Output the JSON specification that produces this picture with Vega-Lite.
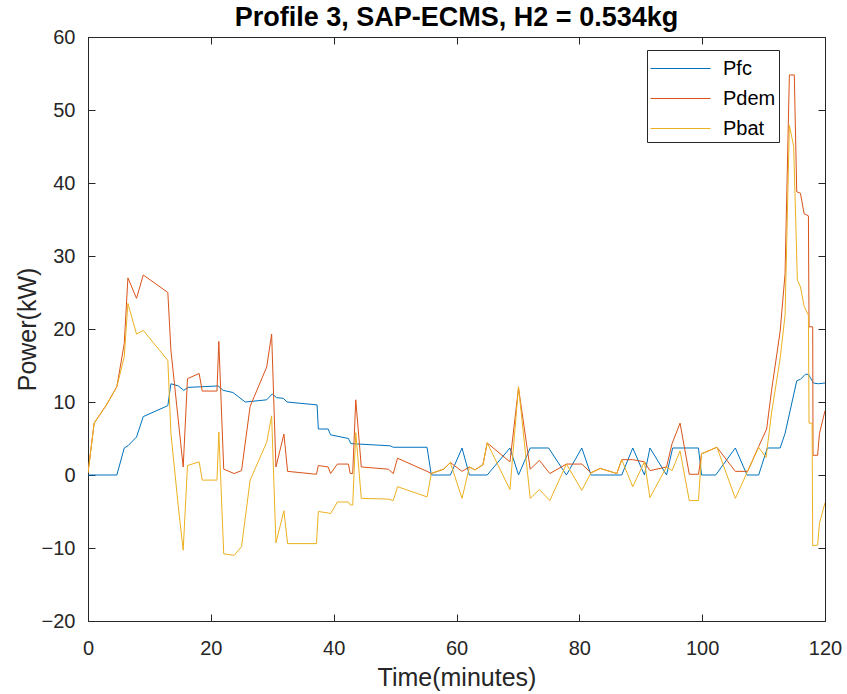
{
  "$schema": "https://vega.github.io/schema/vega-lite/v6.json",
  "width": 737,
  "height": 584,
  "autosize": {"type": "none"},
  "padding": {"left": 88, "top": 37, "right": 22, "bottom": 73},
  "background": "white",
  "config": {
    "font": "Liberation Sans",
    "view": {"stroke": "#262626", "strokeWidth": 1},
    "axis": {
      "grid": false,
      "domainColor": "#262626",
      "tickColor": "#262626",
      "labelColor": "#262626",
      "titleColor": "#262626",
      "labelFont": "Liberation Sans",
      "titleFont": "Liberation Sans",
      "labelFontSize": 20,
      "titleFontSize": 25,
      "titleFontWeight": "normal",
      "domainWidth": 1,
      "tickWidth": 1
    }
  },
  "title": {
    "text": "Profile 3, SAP-ECMS, H2 = 0.534kg",
    "font": "Liberation Sans",
    "fontSize": 27,
    "fontWeight": "bold",
    "color": "#000000",
    "anchor": "middle",
    "offset": -5
  },
  "resolve": {"axis": {"x": "independent", "y": "independent"}},
  "data": {
    "values": [
      {"t": 0, "v": 0, "s": "Pfc"}, {"t": 4.7, "v": 0, "s": "Pfc"}, {"t": 5.9, "v": 3.7, "s": "Pfc"}, {"t": 6.5, "v": 4.0, "s": "Pfc"}, {"t": 7.9, "v": 5.2, "s": "Pfc"}, {"t": 9.0, "v": 8.0, "s": "Pfc"}, {"t": 13.0, "v": 9.5, "s": "Pfc"}, {"t": 13.5, "v": 12.5, "s": "Pfc"}, {"t": 14.7, "v": 12.2, "s": "Pfc"}, {"t": 15.6, "v": 11.6, "s": "Pfc"}, {"t": 16.3, "v": 12.0, "s": "Pfc"}, {"t": 21.2, "v": 12.2, "s": "Pfc"}, {"t": 22.0, "v": 11.6, "s": "Pfc"}, {"t": 23.6, "v": 11.3, "s": "Pfc"}, {"t": 25.6, "v": 10.0, "s": "Pfc"}, {"t": 28.0, "v": 10.2, "s": "Pfc"}, {"t": 29.1, "v": 10.3, "s": "Pfc"}, {"t": 30.0, "v": 11.1, "s": "Pfc"}, {"t": 30.7, "v": 10.6, "s": "Pfc"}, {"t": 31.8, "v": 10.5, "s": "Pfc"}, {"t": 32.4, "v": 10.0, "s": "Pfc"}, {"t": 37.3, "v": 9.6, "s": "Pfc"}, {"t": 37.5, "v": 6.3, "s": "Pfc"}, {"t": 39.1, "v": 6.3, "s": "Pfc"}, {"t": 39.5, "v": 5.5, "s": "Pfc"}, {"t": 42.4, "v": 5.0, "s": "Pfc"}, {"t": 42.8, "v": 4.3, "s": "Pfc"}, {"t": 49.2, "v": 4.0, "s": "Pfc"}, {"t": 49.7, "v": 3.8, "s": "Pfc"}, {"t": 55.2, "v": 3.8, "s": "Pfc"}, {"t": 55.9, "v": 0, "s": "Pfc"}, {"t": 59.0, "v": 0, "s": "Pfc"}, {"t": 60.9, "v": 3.7, "s": "Pfc"}, {"t": 62.1, "v": 0, "s": "Pfc"}, {"t": 65.0, "v": 0, "s": "Pfc"}, {"t": 68.7, "v": 3.7, "s": "Pfc"}, {"t": 70.1, "v": 0, "s": "Pfc"}, {"t": 72.0, "v": 3.7, "s": "Pfc"}, {"t": 75.0, "v": 3.7, "s": "Pfc"}, {"t": 77.9, "v": 0, "s": "Pfc"}, {"t": 80.4, "v": 3.7, "s": "Pfc"}, {"t": 81.9, "v": 0, "s": "Pfc"}, {"t": 86.9, "v": 0, "s": "Pfc"}, {"t": 88.7, "v": 3.7, "s": "Pfc"}, {"t": 90.6, "v": 0, "s": "Pfc"}, {"t": 91.5, "v": 3.7, "s": "Pfc"}, {"t": 94.2, "v": 0, "s": "Pfc"}, {"t": 95.2, "v": 3.7, "s": "Pfc"}, {"t": 99.4, "v": 3.7, "s": "Pfc"}, {"t": 99.9, "v": 0, "s": "Pfc"}, {"t": 102.2, "v": 0, "s": "Pfc"}, {"t": 105.4, "v": 3.7, "s": "Pfc"}, {"t": 107.3, "v": 0, "s": "Pfc"}, {"t": 109.2, "v": 0, "s": "Pfc"}, {"t": 110.6, "v": 3.7, "s": "Pfc"}, {"t": 112.7, "v": 3.7, "s": "Pfc"}, {"t": 113.5, "v": 5.7, "s": "Pfc"}, {"t": 115.4, "v": 12.9, "s": "Pfc"}, {"t": 116.0, "v": 13.1, "s": "Pfc"}, {"t": 116.8, "v": 13.8, "s": "Pfc"}, {"t": 117.3, "v": 13.8, "s": "Pfc"}, {"t": 118.1, "v": 12.6, "s": "Pfc"}, {"t": 118.9, "v": 12.5, "s": "Pfc"}, {"t": 120, "v": 12.6, "s": "Pfc"},

      {"t": 0, "v": 0.3, "s": "Pdem"}, {"t": 1.0, "v": 7.1, "s": "Pdem"}, {"t": 3.0, "v": 9.6, "s": "Pdem"}, {"t": 4.7, "v": 12.1, "s": "Pdem"}, {"t": 5.9, "v": 18.0, "s": "Pdem"}, {"t": 6.5, "v": 27.0, "s": "Pdem"}, {"t": 7.9, "v": 24.2, "s": "Pdem"}, {"t": 9.0, "v": 27.4, "s": "Pdem"}, {"t": 13.0, "v": 25.0, "s": "Pdem"}, {"t": 13.5, "v": 17.1, "s": "Pdem"}, {"t": 15.5, "v": 1.1, "s": "Pdem"}, {"t": 16.2, "v": 13.2, "s": "Pdem"}, {"t": 18.1, "v": 13.9, "s": "Pdem"}, {"t": 18.6, "v": 11.5, "s": "Pdem"}, {"t": 21.0, "v": 11.5, "s": "Pdem"}, {"t": 21.3, "v": 18.3, "s": "Pdem"}, {"t": 22.1, "v": 0.8, "s": "Pdem"}, {"t": 23.8, "v": 0.2, "s": "Pdem"}, {"t": 25.0, "v": 0.6, "s": "Pdem"}, {"t": 26.4, "v": 9.4, "s": "Pdem"}, {"t": 29.1, "v": 14.8, "s": "Pdem"}, {"t": 29.9, "v": 19.3, "s": "Pdem"}, {"t": 30.6, "v": 1.1, "s": "Pdem"}, {"t": 31.9, "v": 5.6, "s": "Pdem"}, {"t": 32.5, "v": 0.5, "s": "Pdem"}, {"t": 37.2, "v": 0.1, "s": "Pdem"}, {"t": 37.5, "v": 1.3, "s": "Pdem"}, {"t": 39.1, "v": 1.1, "s": "Pdem"}, {"t": 39.5, "v": 0.2, "s": "Pdem"}, {"t": 40.6, "v": 1.5, "s": "Pdem"}, {"t": 42.4, "v": 1.5, "s": "Pdem"}, {"t": 42.7, "v": 0.2, "s": "Pdem"}, {"t": 43.1, "v": 0.2, "s": "Pdem"}, {"t": 43.6, "v": 10.3, "s": "Pdem"}, {"t": 44.5, "v": 1.1, "s": "Pdem"}, {"t": 48.9, "v": 0.8, "s": "Pdem"}, {"t": 49.7, "v": 0.2, "s": "Pdem"}, {"t": 50.4, "v": 2.3, "s": "Pdem"}, {"t": 55.2, "v": 0.5, "s": "Pdem"}, {"t": 55.9, "v": 0.2, "s": "Pdem"}, {"t": 57.9, "v": 0.8, "s": "Pdem"}, {"t": 59.0, "v": 1.7, "s": "Pdem"}, {"t": 60.9, "v": 0.5, "s": "Pdem"}, {"t": 62.1, "v": 1.1, "s": "Pdem"}, {"t": 63.0, "v": 0.7, "s": "Pdem"}, {"t": 64.3, "v": 1.4, "s": "Pdem"}, {"t": 65.0, "v": 4.4, "s": "Pdem"}, {"t": 68.7, "v": 1.8, "s": "Pdem"}, {"t": 70.1, "v": 11.9, "s": "Pdem"}, {"t": 72.0, "v": 0.8, "s": "Pdem"}, {"t": 73.5, "v": 2.0, "s": "Pdem"}, {"t": 75.2, "v": 0.2, "s": "Pdem"}, {"t": 77.9, "v": 1.5, "s": "Pdem"}, {"t": 80.4, "v": 1.5, "s": "Pdem"}, {"t": 81.9, "v": 0.3, "s": "Pdem"}, {"t": 83.4, "v": 0.9, "s": "Pdem"}, {"t": 86.1, "v": 0.2, "s": "Pdem"}, {"t": 86.9, "v": 2.1, "s": "Pdem"}, {"t": 88.7, "v": 2.1, "s": "Pdem"}, {"t": 90.6, "v": 1.8, "s": "Pdem"}, {"t": 91.5, "v": 0.6, "s": "Pdem"}, {"t": 94.2, "v": 1.1, "s": "Pdem"}, {"t": 95.1, "v": 4.3, "s": "Pdem"}, {"t": 96.4, "v": 7.1, "s": "Pdem"}, {"t": 97.9, "v": 0.1, "s": "Pdem"}, {"t": 99.4, "v": 0.1, "s": "Pdem"}, {"t": 99.9, "v": 2.9, "s": "Pdem"}, {"t": 102.4, "v": 3.8, "s": "Pdem"}, {"t": 105.4, "v": 0.5, "s": "Pdem"}, {"t": 107.4, "v": 0.5, "s": "Pdem"}, {"t": 109.2, "v": 3.9, "s": "Pdem"}, {"t": 110.5, "v": 6.3, "s": "Pdem"}, {"t": 111.3, "v": 11.6, "s": "Pdem"}, {"t": 112.7, "v": 19.7, "s": "Pdem"}, {"t": 113.5, "v": 27.6, "s": "Pdem"}, {"t": 114.2, "v": 54.8, "s": "Pdem"}, {"t": 115.0, "v": 54.8, "s": "Pdem"}, {"t": 115.4, "v": 38.8, "s": "Pdem"}, {"t": 116.0, "v": 38.6, "s": "Pdem"}, {"t": 116.6, "v": 35.8, "s": "Pdem"}, {"t": 117.3, "v": 35.5, "s": "Pdem"}, {"t": 117.4, "v": 20.3, "s": "Pdem"}, {"t": 118.0, "v": 20.3, "s": "Pdem"}, {"t": 118.05, "v": 2.7, "s": "Pdem"}, {"t": 118.8, "v": 2.7, "s": "Pdem"}, {"t": 119.1, "v": 5.7, "s": "Pdem"}, {"t": 120, "v": 8.8, "s": "Pdem"},

      {"t": 0, "v": 0.3, "s": "Pbat"}, {"t": 1.0, "v": 7.1, "s": "Pbat"}, {"t": 3.0, "v": 9.6, "s": "Pbat"}, {"t": 4.7, "v": 12.1, "s": "Pbat"}, {"t": 5.9, "v": 16.2, "s": "Pbat"}, {"t": 6.5, "v": 23.5, "s": "Pbat"}, {"t": 7.9, "v": 19.3, "s": "Pbat"}, {"t": 9.0, "v": 19.8, "s": "Pbat"}, {"t": 13.0, "v": 15.7, "s": "Pbat"}, {"t": 13.5, "v": 5.7, "s": "Pbat"}, {"t": 14.7, "v": -4.3, "s": "Pbat"}, {"t": 15.5, "v": -10.3, "s": "Pbat"}, {"t": 16.2, "v": 1.3, "s": "Pbat"}, {"t": 18.1, "v": 1.8, "s": "Pbat"}, {"t": 18.6, "v": -0.7, "s": "Pbat"}, {"t": 21.0, "v": -0.7, "s": "Pbat"}, {"t": 21.3, "v": 5.9, "s": "Pbat"}, {"t": 22.1, "v": -10.8, "s": "Pbat"}, {"t": 23.8, "v": -11.0, "s": "Pbat"}, {"t": 25.0, "v": -9.8, "s": "Pbat"}, {"t": 26.4, "v": -0.7, "s": "Pbat"}, {"t": 29.1, "v": 4.5, "s": "Pbat"}, {"t": 29.9, "v": 8.1, "s": "Pbat"}, {"t": 30.6, "v": -9.3, "s": "Pbat"}, {"t": 31.9, "v": -4.9, "s": "Pbat"}, {"t": 32.5, "v": -9.4, "s": "Pbat"}, {"t": 37.2, "v": -9.4, "s": "Pbat"}, {"t": 37.5, "v": -5.0, "s": "Pbat"}, {"t": 39.1, "v": -5.2, "s": "Pbat"}, {"t": 39.5, "v": -5.3, "s": "Pbat"}, {"t": 40.6, "v": -3.7, "s": "Pbat"}, {"t": 42.4, "v": -3.7, "s": "Pbat"}, {"t": 42.7, "v": -4.1, "s": "Pbat"}, {"t": 43.1, "v": -4.1, "s": "Pbat"}, {"t": 43.6, "v": 5.8, "s": "Pbat"}, {"t": 44.5, "v": -3.2, "s": "Pbat"}, {"t": 48.9, "v": -3.3, "s": "Pbat"}, {"t": 49.7, "v": -3.5, "s": "Pbat"}, {"t": 50.4, "v": -1.6, "s": "Pbat"}, {"t": 55.2, "v": -3.0, "s": "Pbat"}, {"t": 55.9, "v": 0.2, "s": "Pbat"}, {"t": 57.9, "v": 0.8, "s": "Pbat"}, {"t": 59.0, "v": 1.7, "s": "Pbat"}, {"t": 60.9, "v": -3.2, "s": "Pbat"}, {"t": 62.1, "v": 1.1, "s": "Pbat"}, {"t": 63.0, "v": 0.7, "s": "Pbat"}, {"t": 64.3, "v": 1.4, "s": "Pbat"}, {"t": 65.0, "v": 4.4, "s": "Pbat"}, {"t": 68.7, "v": -2.0, "s": "Pbat"}, {"t": 70.1, "v": 12.1, "s": "Pbat"}, {"t": 72.0, "v": -3.2, "s": "Pbat"}, {"t": 73.5, "v": -2.0, "s": "Pbat"}, {"t": 75.2, "v": -3.5, "s": "Pbat"}, {"t": 77.9, "v": 1.5, "s": "Pbat"}, {"t": 80.4, "v": -2.1, "s": "Pbat"}, {"t": 81.9, "v": 0.3, "s": "Pbat"}, {"t": 83.4, "v": 0.9, "s": "Pbat"}, {"t": 86.1, "v": 0.2, "s": "Pbat"}, {"t": 86.9, "v": 2.1, "s": "Pbat"}, {"t": 88.7, "v": -1.6, "s": "Pbat"}, {"t": 90.6, "v": 1.8, "s": "Pbat"}, {"t": 91.5, "v": -3.1, "s": "Pbat"}, {"t": 94.2, "v": 1.1, "s": "Pbat"}, {"t": 95.1, "v": 0.6, "s": "Pbat"}, {"t": 96.4, "v": 3.3, "s": "Pbat"}, {"t": 97.9, "v": -3.5, "s": "Pbat"}, {"t": 99.4, "v": -3.5, "s": "Pbat"}, {"t": 99.9, "v": 2.9, "s": "Pbat"}, {"t": 102.4, "v": 3.8, "s": "Pbat"}, {"t": 105.4, "v": -3.2, "s": "Pbat"}, {"t": 107.4, "v": 0.5, "s": "Pbat"}, {"t": 109.2, "v": 3.8, "s": "Pbat"}, {"t": 110.4, "v": 2.4, "s": "Pbat"}, {"t": 111.3, "v": 8.5, "s": "Pbat"}, {"t": 112.7, "v": 16.0, "s": "Pbat"}, {"t": 113.5, "v": 21.9, "s": "Pbat"}, {"t": 114.2, "v": 47.9, "s": "Pbat"}, {"t": 114.9, "v": 45.0, "s": "Pbat"}, {"t": 115.5, "v": 26.7, "s": "Pbat"}, {"t": 116.0, "v": 25.8, "s": "Pbat"}, {"t": 116.6, "v": 23.1, "s": "Pbat"}, {"t": 117.3, "v": 21.9, "s": "Pbat"}, {"t": 117.4, "v": 7.1, "s": "Pbat"}, {"t": 117.9, "v": 7.1, "s": "Pbat"}, {"t": 118.0, "v": -9.7, "s": "Pbat"}, {"t": 118.8, "v": -9.6, "s": "Pbat"}, {"t": 119.1, "v": -6.6, "s": "Pbat"}, {"t": 120, "v": -3.8, "s": "Pbat"}
    ]
  },
  "layer": [
    {
      "mark": {"type": "line", "strokeWidth": 1, "clip": true},
      "encoding": {
        "x": {
          "field": "t", "type": "quantitative",
          "scale": {"domain": [0, 120], "nice": false, "zero": false},
          "axis": {"orient": "bottom", "title": "Time(minutes)", "values": [0, 20, 40, 60, 80, 100, 120], "tickSize": 0, "labelPadding": 17, "titlePadding": 7, "labelFlush": false}
        },
        "y": {
          "field": "v", "type": "quantitative",
          "scale": {"domain": [-20, 60], "nice": false, "zero": false},
          "axis": {"orient": "left", "title": "Power(kW)", "values": [-20, -10, 0, 10, 20, 30, 40, 50, 60], "tickSize": 0, "labelPadding": 13, "titlePadding": 1}
        },
        "color": {
          "field": "s", "type": "nominal",
          "scale": {"domain": ["Pfc", "Pdem", "Pbat"], "range": ["#0072BD", "#D95319", "#EDB120"]},
          "legend": {
            "title": null,
            "orient": "none",
            "legendX": 559,
            "legendY": 13,
            "symbolType": "M-2,0H2",
            "symbolSize": 900,
            "symbolStrokeWidth": 1,
            "symbolOffset": 15,
            "labelFontSize": 20,
            "labelColor": "#000000",
            "labelFont": "Liberation Sans",
            "rowPadding": 4,
            "labelOffset": 27,
            "strokeColor": "#262626",
            "fillColor": "white",
            "padding": 3
          }
        },
        "order": {"field": "t", "type": "quantitative"}
      }
    },
    {
      "mark": {"type": "point", "opacity": 0},
      "encoding": {
        "x": {"field": "t", "type": "quantitative", "scale": {"domain": [0, 120], "nice": false, "zero": false},
          "axis": {"orient": "bottom", "offset": -7, "tickSize": 7, "domain": false, "labels": false, "title": null, "values": [0, 20, 40, 60, 80, 100, 120]}},
        "y": {"field": "v", "type": "quantitative", "scale": {"domain": [-20, 60], "nice": false, "zero": false}, "axis": null}
      }
    },
    {
      "mark": {"type": "point", "opacity": 0},
      "encoding": {
        "x": {"field": "t", "type": "quantitative", "scale": {"domain": [0, 120], "nice": false, "zero": false},
          "axis": {"orient": "top", "offset": -7, "tickSize": 7, "domain": false, "labels": false, "title": null, "values": [0, 20, 40, 60, 80, 100, 120]}},
        "y": {"field": "v", "type": "quantitative", "scale": {"domain": [-20, 60], "nice": false, "zero": false}, "axis": null}
      }
    },
    {
      "mark": {"type": "point", "opacity": 0},
      "encoding": {
        "x": {"field": "t", "type": "quantitative", "scale": {"domain": [0, 120], "nice": false, "zero": false}, "axis": null},
        "y": {"field": "v", "type": "quantitative", "scale": {"domain": [-20, 60], "nice": false, "zero": false},
          "axis": {"orient": "left", "offset": -7, "tickSize": 7, "domain": false, "labels": false, "title": null, "values": [-20, -10, 0, 10, 20, 30, 40, 50, 60]}}
      }
    },
    {
      "mark": {"type": "point", "opacity": 0},
      "encoding": {
        "x": {"field": "t", "type": "quantitative", "scale": {"domain": [0, 120], "nice": false, "zero": false}, "axis": null},
        "y": {"field": "v", "type": "quantitative", "scale": {"domain": [-20, 60], "nice": false, "zero": false},
          "axis": {"orient": "right", "offset": -7, "tickSize": 7, "domain": false, "labels": false, "title": null, "values": [-20, -10, 0, 10, 20, 30, 40, 50, 60]}}
      }
    }
  ]
}
